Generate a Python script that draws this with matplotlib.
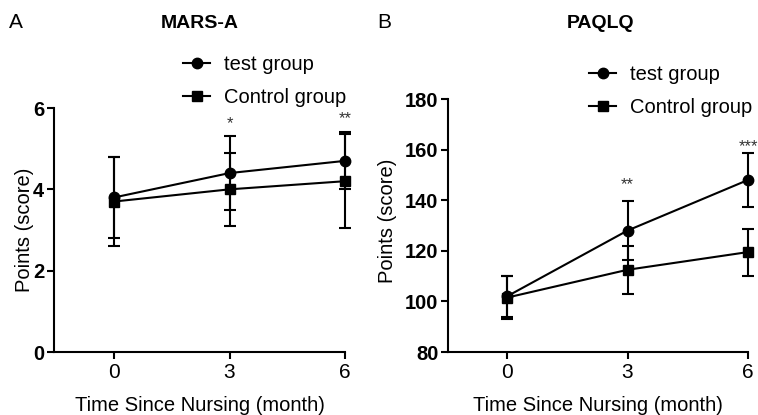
import matplotlib
matplotlib.use("Agg")
import matplotlib.pyplot as plt
from matplotlib.lines import Line2D

plt.rcParams["font.family"] = ["Liberation Sans", "DejaVu Sans"]

months = [0, 3, 6]

# MARS-A
mars_test = [3.8, 4.4, 4.7]
mars_test_err = [1.0, 0.9, 0.7]
mars_ctrl = [3.7, 4.0, 4.2]
mars_ctrl_err = [1.1, 0.9, 1.15]
mars_stars = ["", "*", "**"]
mars_star_y = [None, 5.62, 5.75]

# PAQLQ
paq_test = [102, 128, 148]
paq_test_err = [8, 11.5, 10.5]
paq_ctrl = [101.5, 112.5, 119.5]
paq_ctrl_err = [8.5, 9.5, 9.3]
paq_stars = ["", "**", "***"]
paq_star_y = [None, 146.0, 161.0]

W, H = 758, 415
fig = plt.figure(figsize=(W / 100, H / 100), dpi=100)


def px_axes(l, t, r, b):
    return fig.add_axes([l / W, 1 - b / H, (r - l) / W, (b - t) / H])


def panel(ax, test, test_err, ctrl, ctrl_err, ylim, yticks, xlim, stars, star_y):
    kw = dict(color="black", lw=1.5, elinewidth=1.5, capsize=4, capthick=1.5,
              clip_on=False, zorder=3)
    ax.errorbar(months, test, yerr=test_err, marker="o", ms=7.5, **kw)
    ax.errorbar(months, ctrl, yerr=ctrl_err, marker="s", ms=7, **kw)
    for x, s, y in zip(months, stars, star_y):
        if s:
            ax.text(x, y, s, ha="center", va="center", fontsize=12,
                    color="#333333", clip_on=False)
    ax.set_xlim(*xlim)
    ax.set_ylim(*ylim)
    ax.set_xticks(months)
    ax.set_yticks(yticks)
    for side in ("top", "right"):
        ax.spines[side].set_visible(False)
    for side in ("left", "bottom"):
        ax.spines[side].set_linewidth(1.5)
    ax.tick_params(width=1.5, length=5, pad=2)
    ax.tick_params(axis="x", labelsize=15, pad=3)
    ax.tick_params(axis="y", labelsize=14.5)
    for t in ax.get_yticklabels():
        t.set_fontweight("bold")
    ax.set_xlabel("Time Since Nursing (month)", fontsize=14.5)
    ax.set_ylabel("Points (score)", fontsize=14.5)


axA = px_axes(54, 108, 345, 352)
panel(axA, mars_test, mars_test_err, mars_ctrl, mars_ctrl_err,
      (0, 6), [0, 2, 4, 6], (-1.56, 6), mars_stars, mars_star_y)
axA.xaxis.set_label_coords(0.5, -0.18)
axA.yaxis.set_label_coords(-0.07, 0.5)

axB = px_axes(448, 99, 748, 352)
panel(axB, paq_test, paq_test_err, paq_ctrl, paq_ctrl_err,
      (80, 180), [80, 100, 120, 140, 160, 180], (-1.47, 6), paq_stars, paq_star_y)
axB.xaxis.set_label_coords(0.5, -0.175)
axB.yaxis.set_label_coords(-0.17, 0.52)

handles = [
    Line2D([], [], color="black", lw=1.5, marker="o", ms=7.5),
    Line2D([], [], color="black", lw=1.5, marker="s", ms=7),
]
labels = ["test group", "Control group"]
leg_kw = dict(frameon=False, fontsize=14.5, handlelength=1.35, handletextpad=0.7,
              labelspacing=0.7, borderaxespad=0, borderpad=0)
axA.legend(handles, labels, loc="upper left", bbox_to_anchor=(183 / W, 1 - 55 / H),
           bbox_transform=fig.transFigure, **leg_kw)
axB.legend(handles, labels, loc="upper left", bbox_to_anchor=(589 / W, 1 - 65 / H),
           bbox_transform=fig.transFigure, **leg_kw)

fig.text(200 / W, 1 - 23 / H, "MARS-A", ha="center", va="center",
         fontsize=14, fontweight="bold")
fig.text(601 / W, 1 - 23 / H, "PAQLQ", ha="center", va="center",
         fontsize=14, fontweight="bold")
fig.text(16 / W, 1 - 23 / H, "A", ha="center", va="center", fontsize=15)
fig.text(384 / W, 1 - 23 / H, "B", ha="center", va="center", fontsize=15)

fig.savefig("out.png", dpi=100)
